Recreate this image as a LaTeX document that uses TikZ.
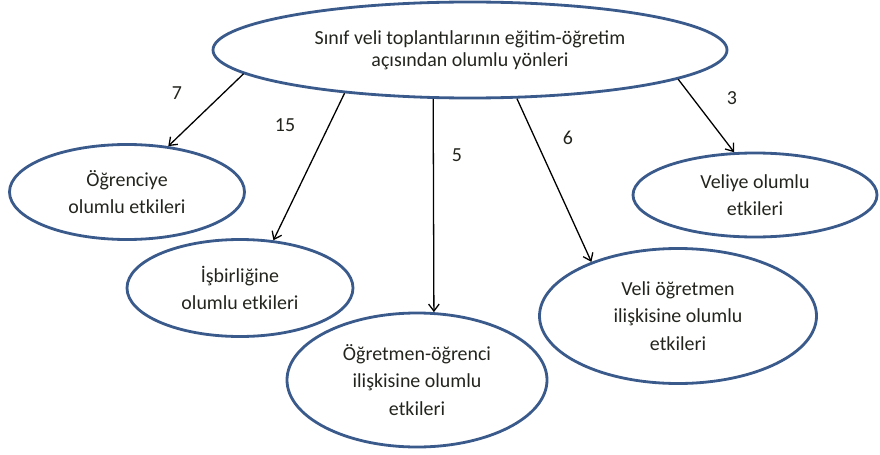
\documentclass[tikz,border=0pt]{standalone}
\usepackage{fontspec}
\setmainfont{Carlito}
\usetikzlibrary{shapes.geometric}
\usetikzlibrary{arrows.meta}
\definecolor{ellblue}{RGB}{58,90,140}
\definecolor{txtgray}{RGB}{36,36,30}

\begin{document}
\begin{tikzpicture}[
    x=0.03cm, y=-0.03cm,
    bubble/.style 2 args={
        draw=ellblue,
        line width=2.4pt,
        ellipse,
        inner sep=0pt,
        minimum width=#1*0.03cm,
        minimum height=#2*0.03cm,
        align=center,
        text=txtgray,
        font=\fontsize{17}{23.5}\selectfont,
    },
    count/.style={
        text=txtgray,
        font=\fontsize{17}{20}\selectfont,
    },
    link/.style={
        -{Straight Barb[length=6pt,width=9pt]},
        line width=1.1pt,
    }
]
\useasboundingbox (0,0) rectangle (880,454);

\node[bubble={514}{96}, font=\fontsize{17}{18.5}\selectfont] (main) at (470,50)
    {Sınıf veli toplantılarının eğitim-öğretim\\açısından olumlu yönleri};

\node[bubble={235}{95}] (ogrenci) at (127,192) {Öğrenciye\\olumlu etkileri};
\node[bubble={226}{97}] (isbirligi) at (240,288) {İşbirliğine\\olumlu etkileri};
\node[bubble={260}{134}] (ogretmen) at (417,380) {Öğretmen-öğrenci\\ilişkisine olumlu\\etkileri};
\node[bubble={277}{135}] (iliski) at (678,316) {Veli öğretmen\\ilişkisine olumlu\\etkileri};
\node[bubble={244}{84}] (veli) at (755,195) {Veliye olumlu\\etkileri};

% arrows from the main ellipse
\draw[link] (main.186.5) -- (ogrenci.48);
\draw[link] (main.199) -- (isbirligi.55);
\draw[link] (main.233) -- (ogretmen.76);
\draw[link] (main.314) -- (iliski.148);
\draw[link] (main.352) -- (veli.116);

\node[count] (n7) at (177,93) {7};
\node[count] (n15) at (285,125) {15};
\node[count] (n5) at (457,155) {5};
\node[count] (n6) at (568,138) {6};
\node[count] (n3) at (732,98) {3};
\end{tikzpicture}
\end{document}
